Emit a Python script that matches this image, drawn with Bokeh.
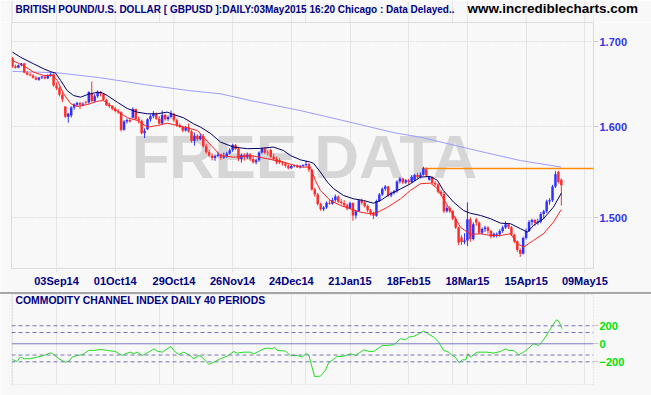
from bokeh.plotting import figure
from bokeh.models import Range1d, FixedTicker, PrintfTickFormatter, Label, Span, Div, Grid, ColumnDataSource
from bokeh.layouts import column
from bokeh.embed import file_html
from bokeh.resources import INLINE
from bokeh.core.properties import value

# ---------------- data ----------------
tick_idx = [15, 35, 55, 75, 95, 115, 135, 155, 175, 195]
tick_labels = ["03Sep14", "01Oct14", "29Oct14", "26Nov14", "24Dec14",
               "21Jan15", "18Feb15", "18Mar15", "15Apr15", "09May15"]

opens = [1.6805,1.6705,1.6690,1.6718,1.6740,1.6632,1.6608,1.6598,1.6570,1.6548,
         1.6572,1.6585,1.6562,1.6598,1.6612,1.6480,1.6448,1.6372,1.6235,1.6118,
         1.6130,1.6222,1.6255,1.6275,1.6255,1.6290,1.6280,1.6390,1.6300,1.6355,
         1.6402,1.6382,1.6312,1.6252,1.6238,1.6208,1.6182,1.6170,1.5968,1.6062,
         1.6080,1.6105,1.6205,1.6092,1.6072,1.5930,1.5975,1.6088,1.6122,1.6152,
         1.6095,1.6040,1.6138,1.6088,1.6115,1.6150,1.6078,1.6020,1.6000,1.5960,
         1.5995,1.5948,1.5840,1.5902,1.5862,1.5898,1.5782,1.5715,1.5680,1.5650,
         1.5672,1.5690,1.5655,1.5668,1.5700,1.5738,1.5795,1.5752,1.5640,1.5685,
         1.5660,1.5690,1.5640,1.5605,1.5625,1.5712,1.5755,1.5710,1.5740,1.5665,
         1.5640,1.5630,1.5600,1.5590,1.5565,1.5538,1.5562,1.5570,1.5548,1.5562,
         1.5572,1.5585,1.5520,1.5305,1.5250,1.5148,1.5090,1.5110,1.5162,1.5150,
         1.5190,1.5228,1.5172,1.5158,1.5135,1.5098,1.5158,1.5025,1.5070,1.5188,
         1.5162,1.5125,1.5080,1.5050,1.5020,1.5180,1.5250,1.5312,1.5338,1.5240,
         1.5265,1.5285,1.5392,1.5425,1.5380,1.5405,1.5385,1.5405,1.5462,1.5440,
         1.5465,1.5525,1.5410,1.5440,1.5375,1.5360,1.5280,1.5255,1.5068,1.5105,
         1.5068,1.4990,1.4895,1.4790,1.4742,1.4760,1.4985,1.4775,1.4985,1.4950,
         1.4840,1.4880,1.4895,1.4858,1.4800,1.4812,1.4825,1.4860,1.4895,1.4930,
         1.4900,1.4820,1.4748,1.4660,1.4620,1.4785,1.4860,1.4955,1.4975,1.4945,
         1.4960,1.5040,1.5068,1.5175,1.5188,1.5338,1.5495,1.5410]
highs = [1.6815,1.6725,1.6728,1.6745,1.6748,1.6648,1.6632,1.6612,1.6590,1.6580,
         1.6592,1.6600,1.6612,1.6632,1.6620,1.6515,1.6470,1.6398,1.6240,1.6162,
         1.6238,1.6272,1.6290,1.6290,1.6285,1.6302,1.6412,1.6525,1.6378,1.6422,
         1.6415,1.6392,1.6322,1.6280,1.6250,1.6230,1.6205,1.6180,1.6078,1.6098,
         1.6095,1.6225,1.6210,1.6118,1.6085,1.5985,1.6100,1.6142,1.6180,1.6165,
         1.6125,1.6188,1.6150,1.6132,1.6188,1.6162,1.6095,1.6042,1.6012,1.6012,
         1.6040,1.5968,1.5935,1.5915,1.5922,1.5920,1.5810,1.5742,1.5705,1.5690,
         1.5722,1.5700,1.5712,1.5720,1.5760,1.5810,1.5808,1.5762,1.5700,1.5702,
         1.5712,1.5705,1.5680,1.5645,1.5725,1.5768,1.5772,1.5735,1.5752,1.5700,
         1.5665,1.5648,1.5618,1.5605,1.5580,1.5575,1.5578,1.5580,1.5575,1.5580,
         1.5620,1.5592,1.5530,1.5322,1.5268,1.5162,1.5125,1.5175,1.5195,1.5215,
         1.5250,1.5240,1.5202,1.5190,1.5150,1.5170,1.5165,1.5082,1.5198,1.5205,
         1.5180,1.5140,1.5095,1.5065,1.5195,1.5265,1.5325,1.5352,1.5345,1.5282,
         1.5300,1.5405,1.5440,1.5432,1.5418,1.5420,1.5462,1.5475,1.5488,1.5492,
         1.5555,1.5545,1.5450,1.5448,1.5395,1.5372,1.5300,1.5280,1.5130,1.5125,
         1.5082,1.5010,1.4905,1.4815,1.4835,1.5165,1.5005,1.4950,1.5000,1.4960,
         1.4895,1.4915,1.4910,1.4870,1.4842,1.4845,1.4878,1.4915,1.4960,1.4942,
         1.4910,1.4830,1.4760,1.4675,1.4800,1.4885,1.4975,1.4990,1.4985,1.4990,
         1.5060,1.5085,1.5195,1.5210,1.5355,1.5505,1.5510,1.5425]
lows = [1.6690,1.6680,1.6682,1.6705,1.6622,1.6598,1.6590,1.6560,1.6540,1.6535,
        1.6555,1.6552,1.6555,1.6582,1.6465,1.6428,1.6352,1.6285,1.6105,1.6050,
        1.6108,1.6198,1.6232,1.6205,1.6238,1.6258,1.6268,1.6285,1.6282,1.6335,
        1.6352,1.6302,1.6240,1.6218,1.6192,1.6168,1.6150,1.5950,1.5958,1.6040,
        1.6050,1.6098,1.6080,1.6040,1.5915,1.5875,1.5965,1.6060,1.6100,1.6082,
        1.6030,1.6030,1.6072,1.6068,1.6098,1.6058,1.6000,1.5988,1.5940,1.5948,
        1.5935,1.5822,1.5790,1.5840,1.5850,1.5768,1.5700,1.5660,1.5625,1.5620,
        1.5660,1.5630,1.5640,1.5652,1.5690,1.5720,1.5740,1.5618,1.5600,1.5622,
        1.5640,1.5620,1.5588,1.5580,1.5610,1.5700,1.5695,1.5680,1.5650,1.5620,
        1.5580,1.5585,1.5568,1.5545,1.5525,1.5530,1.5548,1.5540,1.5535,1.5548,
        1.5555,1.5495,1.5290,1.5225,1.5130,1.5075,1.5070,1.5095,1.5140,1.5140,
        1.5170,1.5160,1.5140,1.5115,1.5080,1.5090,1.4968,1.4990,1.5060,1.5140,
        1.5110,1.5060,1.5025,1.4985,1.5010,1.5170,1.5235,1.5290,1.5225,1.5220,
        1.5250,1.5270,1.5370,1.5362,1.5365,1.5360,1.5375,1.5395,1.5420,1.5425,
        1.5455,1.5440,1.5400,1.5362,1.5345,1.5260,1.5235,1.5050,1.5055,1.5050,
        1.4975,1.4880,1.4710,1.4712,1.4720,1.4700,1.4745,1.4760,1.4915,1.4825,
        1.4822,1.4850,1.4830,1.4780,1.4790,1.4790,1.4800,1.4840,1.4880,1.4880,
        1.4805,1.4730,1.4640,1.4588,1.4615,1.4770,1.4850,1.4920,1.4910,1.4925,
        1.4940,1.4990,1.5050,1.5140,1.5170,1.5320,1.5370,1.5130]
closes = [1.6705,1.6690,1.6718,1.6740,1.6632,1.6608,1.6598,1.6570,1.6548,1.6572,
          1.6585,1.6562,1.6598,1.6612,1.6480,1.6448,1.6372,1.6318,1.6118,1.6152,
          1.6222,1.6262,1.6275,1.6255,1.6268,1.6280,1.6402,1.6300,1.6355,1.6402,
          1.6382,1.6312,1.6252,1.6238,1.6208,1.6182,1.6170,1.5965,1.6062,1.6080,
          1.6062,1.6205,1.6092,1.6072,1.5930,1.5958,1.6088,1.6122,1.6152,1.6095,
          1.6040,1.6138,1.6088,1.6115,1.6150,1.6078,1.6020,1.6000,1.5960,1.5995,
          1.5948,1.5840,1.5902,1.5862,1.5898,1.5782,1.5715,1.5680,1.5650,1.5672,
          1.5690,1.5655,1.5668,1.5700,1.5738,1.5795,1.5752,1.5640,1.5685,1.5660,
          1.5690,1.5640,1.5605,1.5625,1.5712,1.5755,1.5710,1.5705,1.5665,1.5640,
          1.5600,1.5600,1.5590,1.5565,1.5538,1.5562,1.5570,1.5548,1.5562,1.5572,
          1.5585,1.5520,1.5305,1.5250,1.5148,1.5090,1.5110,1.5162,1.5150,1.5190,
          1.5228,1.5172,1.5158,1.5135,1.5098,1.5158,1.5025,1.5070,1.5188,1.5162,
          1.5125,1.5080,1.5050,1.5020,1.5180,1.5250,1.5312,1.5338,1.5240,1.5265,
          1.5285,1.5392,1.5425,1.5380,1.5405,1.5385,1.5445,1.5462,1.5440,1.5465,
          1.5535,1.5458,1.5440,1.5375,1.5360,1.5280,1.5255,1.5068,1.5105,1.5068,
          1.4990,1.4895,1.4738,1.4742,1.4760,1.4985,1.4775,1.4930,1.4950,1.4840,
          1.4880,1.4895,1.4858,1.4800,1.4830,1.4825,1.4860,1.4895,1.4930,1.4900,
          1.4820,1.4748,1.4660,1.4620,1.4785,1.4860,1.4955,1.4975,1.4945,1.4960,
          1.5040,1.5068,1.5175,1.5188,1.5338,1.5470,1.5385,1.5350]

# dark-blue average line
navy_x = [0, 2.7, 7.2, 10.6, 12.9, 14.7, 16.4, 18.6, 20.8, 23.2, 25.6, 28.9, 30.6, 32.3,
          35.7, 39.1, 42.5, 45.9, 49.3, 52.7, 54.9, 58.3, 61.7, 64.1, 67.5, 70.9, 75.3,
          80.1, 84.5, 88.9, 92.3, 94.7, 98.1, 101.5, 102.6, 104.9, 107.3, 109.4, 112.8,
          116.2, 119.6, 123, 125.4, 128.8, 132.2, 135.6, 139, 142.4, 144.8, 146.8, 150.3,
          153.7, 156, 159.5, 162.9, 166.3, 169.7, 173.1, 175.5, 177.5, 180.9, 184.3, 187]
navy_y = [1.6875, 1.6815, 1.6735, 1.6676, 1.6644, 1.6624, 1.6538, 1.6421, 1.6362, 1.6343,
          1.6374, 1.6401, 1.6394, 1.6362, 1.6285, 1.6212, 1.6170, 1.6151, 1.6151, 1.6170,
          1.6143, 1.6105, 1.6036, 1.5998, 1.5926, 1.5829, 1.5773, 1.5755, 1.5758, 1.5773,
          1.5735, 1.5679, 1.5631, 1.5605, 1.5591, 1.5495, 1.5385, 1.5313, 1.5239, 1.5203,
          1.5185, 1.5156, 1.5185, 1.5258, 1.5310, 1.5367, 1.5440, 1.5447, 1.5403, 1.5294,
          1.5167, 1.5077, 1.5048, 1.5024, 1.4989, 1.4942, 1.4936, 1.4883, 1.4847, 1.4918,
          1.4989, 1.5113, 1.5265]
# red average line
red_x = [0, 3.7, 7.2, 10.6, 13.6, 15.3, 17.4, 19.8, 22.1, 25.6, 28.9, 31, 33.4, 36.1,
         39.2, 42.6, 46, 49.4, 52.8, 56.2, 59.6, 63, 66.4, 70.9, 75.3, 81.1, 86.9, 92.3,
         98.1, 101.5, 103.2, 104.9, 108.3, 111.8, 115.2, 118.6, 122, 124.4, 127.8, 132.2,
         135.6, 139, 142.4, 144.8, 146.8, 150.3, 152.6, 156, 159.5, 162.9, 166.3, 169.7,
         172.1, 174.1, 177.5, 180.9, 184.3, 187]
red_y = [1.6775, 1.6715, 1.6636, 1.6597, 1.6597, 1.6538, 1.6383, 1.6269, 1.6235, 1.6258,
         1.6296, 1.6304, 1.6247, 1.6170, 1.6105, 1.6074, 1.5998, 1.6017, 1.6043, 1.6017,
         1.5991, 1.5960, 1.5836, 1.5679, 1.5660, 1.5679, 1.5642, 1.5605, 1.5550, 1.5550,
         1.5403, 1.5294, 1.5185, 1.5131, 1.5095, 1.5059, 1.5042, 1.5059, 1.5113, 1.5203,
         1.5294, 1.5367, 1.5374, 1.5313, 1.5203, 1.5024, 1.4900, 1.4823, 1.4830, 1.4812,
         1.4812, 1.4830, 1.4725, 1.4690, 1.4760, 1.4830, 1.4953, 1.5087]
# long (light blue) average line
lav_x = [0, 15, 30, 45, 60, 71, 81, 98, 115, 130, 139, 158, 173, 187]
lav_y = [1.6645, 1.6630, 1.6570, 1.6490, 1.6420, 1.6382, 1.6304, 1.6189, 1.6055, 1.5935,
         1.5884, 1.5735, 1.5623, 1.5550]
# resistance line from the February high
orange_level = 1.5535
orange_start = 139.5

# CCI 40
cci_x = [0, 1.5, 2.7, 4, 6, 8.4, 10.7, 13, 14, 15.8, 18, 19.3, 20.3, 22, 23.7, 26, 27.7,
         30, 32.3, 35, 37.4, 38.5, 40.2, 41.3, 42.5, 44.2, 46.4, 48.2, 49.3, 51, 52.7, 54,
         55.5, 56.7, 58.4, 60.1, 61.8, 63.5, 64.6, 66.9, 68.6, 70.9, 73.2, 75.4, 76.5, 78.8,
         81, 82.2, 83.9, 85.6, 87.3, 88.5, 89.3, 90.2, 93, 94.7, 97, 98.7, 100.2, 101,
         102.9, 104.9, 106.6, 107.8, 108.9, 110.6, 112.3, 113.5, 115.2, 116.9, 119.7, 121.4,
         123.1, 126, 127.7, 129.9, 132.2, 133.9, 135, 136.7, 138.4, 140.1, 141.3, 143.5,
         145.2, 146.9, 148.6, 149.8, 150.9, 152.1, 153.3, 154.5, 155.1, 156, 158.3, 161.7,
         164, 166.3, 168, 169.1, 170.8, 172.5, 174.2, 175.9, 177.6, 179.3, 179.9, 181.6,
         183.3, 185.3, 186.1, 187.3]
cci_v = [-174, -196, -148, -166, -166, -148, -130, -100, -118, -166, -204, -192, -148,
         -130, -122, -74, -74, -63, -74, -85, -130, -111, -93, -111, -93, -130, -93, -56,
         -81, -93, -56, -30, -93, -118, -93, -122, -166, -130, -148, -229, -204, -166,
         -137, -85, -104, -93, -93, -111, -85, -56, -48, -56, -37, -74, -81, -130, -130,
         -148, -104, -130, -363, -360, -296, -204, -185, -141, -141, -130, -111, -130, -67,
         -85, -85, -19, -19, -11, 56, 44, 74, 81, 111, 141, 118, 74, 19, -74, -93, -130,
         -148, -211, -178, -178, -111, -148, -93, -93, -104, -85, -56, -74, -74, -122, -93,
         -48, 0, -19, 0, 74, 167, 266, 252, 167]
cci_levels_dashed = [200, 125, -125, -200]
cci_ticks = [-200, 0, 200]

title_text = "BRITISH POUND/U.S. DOLLAR [ GBPUSD ]:DAILY:03May2015 16:20 Chicago : Data Delayed.."
site_text = "www.incrediblecharts.com"
cci_title = "COMMODITY CHANNEL INDEX DAILY 40 PERIODS"
watermark = "FREE DATA"

# ---------------- styling ----------------
BG = "#f8f8f8"
UP = "#3030ff"
DOWN = "#ff2c2c"
GRIDC = "#e4e4e4"
FONT = "Liberation Sans"

idx = list(range(len(closes)))
colors = [UP if c >= o else DOWN for o, c in zip(opens, closes)]
tops = [max(o, c) for o, c in zip(opens, closes)]
bots = [min(o, c) for o, c in zip(opens, closes)]
src = ColumnDataSource(dict(x=idx, o=opens, h=highs, l=lows, c=closes,
                            top=tops, bot=bots, col=colors))

x_range = Range1d(-0.34, 197.96)

# ---- header strip (title + site) ----
hdr = figure(width=651, height=22, x_range=x_range, y_range=Range1d(22, 0),
             x_axis_location=None, y_axis_location="right", output_backend="svg",
             toolbar_location=None, min_border_left=11, min_border_right=58,
             min_border_top=0, min_border_bottom=0)
hdr.background_fill_color = BG
hdr.border_fill_color = BG
hdr.outline_line_color = None
hdr.ygrid.grid_line_color = None
hdr.segment(x0=tick_idx, y0=0, x1=tick_idx, y1=22, line_color=GRIDC, line_width=1)
hdr.segment(x0=[x_range.start, x_range.end], y0=0, x1=[x_range.start, x_range.end], y1=22,
            line_color="#dcdcdc", line_width=1)
hdr.text(x=[1.02], y=[8.5], text=[title_text], text_font=value(FONT),
         text_font_size=value("10px"), text_font_style="bold", text_color="#000080",
         text_align="left", text_baseline="middle")
# site name sits across the right edge of the frame: drawn as the header's axis label
hdr.yaxis.ticker = FixedTicker(ticks=[8])
hdr.yaxis.major_label_overrides = {8: site_text}
hdr.yaxis.axis_line_color = None
hdr.yaxis.major_tick_line_color = None
hdr.yaxis.minor_tick_line_color = None
hdr.yaxis.major_tick_out = 0
hdr.yaxis.major_tick_in = 0
hdr.yaxis.major_label_standoff = -126
hdr.yaxis.major_label_text_font = FONT
hdr.yaxis.major_label_text_font_size = "13.5px"
hdr.yaxis.major_label_text_font_style = "bold"
hdr.yaxis.major_label_text_color = "#000000"

# ---- price panel ----
p = figure(width=651, height=270, x_range=x_range, y_range=Range1d(1.44680, 1.72345),
           y_axis_type="log", y_axis_location="right", output_backend="svg",
           toolbar_location=None, min_border_left=11, min_border_right=58,
           min_border_top=0, min_border_bottom=24)
p.background_fill_color = BG
p.border_fill_color = BG
p.outline_line_color = "#dcdcdc"

p.xaxis.ticker = FixedTicker(ticks=tick_idx)
p.xaxis.major_label_overrides = {t: l for t, l in zip(tick_idx, tick_labels)}
p.xaxis.axis_line_color = None
p.xaxis.major_tick_out = 4
p.xaxis.major_tick_in = 0
p.xaxis.major_tick_line_color = GRIDC
p.xaxis.minor_tick_line_color = None
p.xaxis.major_label_standoff = 2
p.xaxis.major_label_text_font = FONT
p.xaxis.major_label_text_font_size = "11px"
p.xaxis.major_label_text_font_style = "bold"
p.xaxis.major_label_text_color = "#000080"

p.yaxis.ticker = FixedTicker(ticks=[1.5, 1.6, 1.7])
p.yaxis.formatter = PrintfTickFormatter(format="%.3f")
p.yaxis.axis_line_color = None
p.yaxis.major_tick_out = 5
p.yaxis.major_tick_in = 0
p.yaxis.major_tick_line_color = "#c8c8c8"
p.yaxis.minor_tick_line_color = None
p.yaxis.major_label_standoff = 1
p.yaxis.major_label_text_font = FONT
p.yaxis.major_label_text_font_size = "11px"
p.yaxis.major_label_text_font_style = "bold"
p.yaxis.major_label_text_color = "#3333ee"

p.xgrid.ticker = FixedTicker(ticks=tick_idx)
p.xgrid.grid_line_color = GRIDC
p.ygrid.ticker = FixedTicker(ticks=[1.5, 1.6, 1.7])
p.ygrid.grid_line_color = "#cfcfcf"
p.ygrid.grid_line_dash = "1 2"

# watermark
p.text(x=[99.5], y=[1.5668], text=[watermark], text_font=value(FONT),
       text_font_size=value("62px"), text_font_style="bold", text_color="#d6d6d6",
       text_align="center", text_baseline="alphabetic")

p.line(lav_x, lav_y, line_color="#9c9cff", line_width=1)
p.segment(x0=orange_start, y0=orange_level, x1=x_range.end, y1=orange_level,
          line_color="#ff8c00", line_width=1.5)

p.segment(x0="x", y0="l", x1="x", y1="h", source=src, line_color="col", line_width=1)
p.vbar(x="x", width=0.85, top="top", bottom="bot", source=src,
       fill_color="col", line_color=None)

p.line(navy_x, navy_y, line_color="#000066", line_width=1)
p.line(red_x, red_y, line_color="#ff2020", line_width=1)

sep = Div(text="", width=651, height=2, margin=(0, 0, 0, 0),
          styles={"background-color": "#a6a6a6"})

# ---- CCI panel ----
q = figure(width=651, height=101, x_range=x_range, y_range=Range1d(-452, 547),
           x_axis_location=None, y_axis_location="right", output_backend="svg",
           toolbar_location=None, min_border_left=11, min_border_right=58,
           min_border_top=0, min_border_bottom=11)
q.background_fill_color = BG
q.border_fill_color = BG
q.outline_line_color = "#d6d6d6"
q.outline_line_dash = "1 2"
q.ygrid.grid_line_color = None
q.add_layout(Grid(dimension=0, ticker=FixedTicker(ticks=tick_idx), grid_line_color=GRIDC))

q.yaxis.ticker = FixedTicker(ticks=cci_ticks)
q.yaxis.axis_line_color = None
q.yaxis.major_tick_out = 5
q.yaxis.major_tick_in = 0
q.yaxis.major_tick_line_color = "#c8c8c8"
q.yaxis.minor_tick_line_color = None
q.yaxis.major_label_standoff = 1
q.yaxis.major_label_text_font = FONT
q.yaxis.major_label_text_font_size = "11px"
q.yaxis.major_label_text_font_style = "bold"
q.yaxis.major_label_text_color = "#00e000"

for lv in cci_levels_dashed:
    q.add_layout(Span(location=lv, dimension="width", line_color="#7474b8",
                      line_width=1, line_dash="4 3"))
q.add_layout(Span(location=0, dimension="width", line_color="#7c7cc0", line_width=1))

q.line(cci_x, cci_v, line_color="#22dd22", line_width=1)

q.add_layout(Label(x=1.02, y=480, text=cci_title, text_font=FONT,
                   text_font_size="10.4px", text_font_style="bold", text_color="#000080",
                   text_baseline="middle", text_align="left"))

layout = column(hdr, p, sep, q, spacing=0)
open("out.html", "w").write(file_html(layout, INLINE))
